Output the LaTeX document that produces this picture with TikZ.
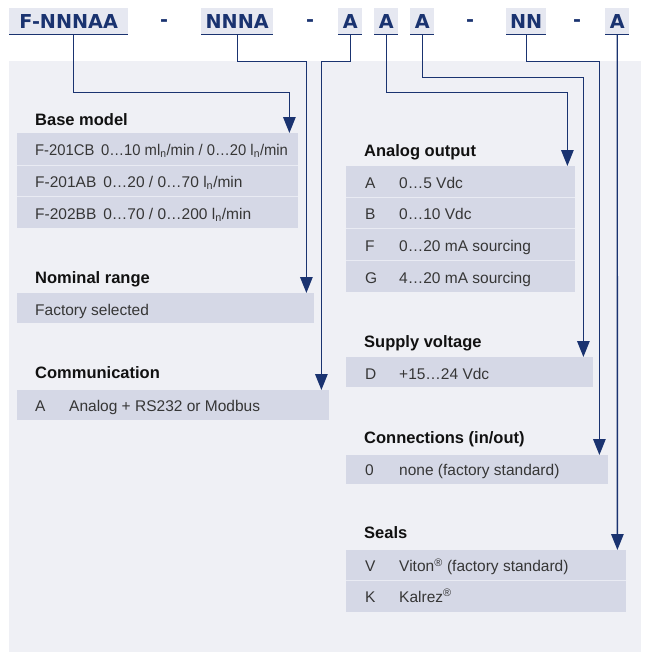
\documentclass[tikz,border=0pt]{standalone}
\usepackage{fontspec}
\setmainfont{Liberation Sans}
\newfontfamily\codefont{DejaVu Sans}
\usetikzlibrary{arrows.meta}
\definecolor{panelc}{HTML}{EFF0F5}
\definecolor{codebg}{HTML}{E6E8F1}
\definecolor{rowc}{HTML}{D5D8E6}
\definecolor{divc}{HTML}{E9EBF3}
\definecolor{navy}{HTML}{1A3370}
\definecolor{headc}{HTML}{111111}
\definecolor{cellc}{HTML}{363636}
\begin{document}
\begin{tikzpicture}[x=1pt,y=-1pt,
  conn/.style={draw=navy, line width=1.4pt, -{Triangle[width=12.5pt,length=16pt]}},
  codebox/.style={fill=codebg, inner sep=0pt, anchor=north west, minimum height=26pt,
    text height=14pt, text depth=0pt, text=navy,
    font=\codefont\bfseries\fontsize{19.2}{20}\selectfont},
  dashtxt/.style={inner sep=0pt, text=navy, font=\codefont\bfseries\fontsize{19.2}{20}\selectfont},
  uline/.style={draw=navy, line width=1.5pt},
  panel/.style={fill=panelc, inner sep=0pt, anchor=north west},
  rowbox/.style={fill=rowc, inner sep=0pt, anchor=north west},
  divline/.style={draw=divc, line width=1pt},
  head/.style={inner sep=0pt, anchor=base west, text=headc, font=\bfseries\fontsize{16.5}{18}\selectfont},
  cell/.style={inner sep=0pt, anchor=base west, text=cellc, font=\fontsize{15.5}{18}\selectfont}
]
\useasboundingbox (0,0) rectangle (652,659);
\fill[white] (0,0) rectangle (652,659);
\node[panel, minimum width=632pt, minimum height=591pt] (panel) at (9,61) {};

% code row
\node[codebox, minimum width=119pt] (c1) at (9,8) {F-NNNAA};
\node[codebox, minimum width=72pt] (c2) at (201,8) {NNNA};
\node[codebox, minimum width=24pt] (c3) at (338,8) {A};
\node[codebox, minimum width=24pt] (c4) at (374,8) {A};
\node[codebox, minimum width=24pt] (c5) at (410,8) {A};
\node[codebox, minimum width=40pt] (c6) at (506,8) {NN};
\node[codebox, minimum width=24pt] (c7) at (605,8) {A};
\foreach \n in {c1,c2,c3,c4,c5,c6,c7}{\draw[uline] (\n.south west) -- (\n.south east);}
\node[dashtxt] (d1) at (164,23) {-};
\node[dashtxt] (d2) at (310,23) {-};
\node[dashtxt] (d3) at (470,23) {-};
\node[dashtxt] (d4) at (577,23) {-};

% left column tables
\node[head] (h1) at (35,125) {Base model};
\node[rowbox, minimum width=281pt, minimum height=32pt] (bm1) at (17,133) {};
\node[rowbox, minimum width=281pt, minimum height=31.5pt] (bm2) at (17,165) {};
\node[rowbox, minimum width=281pt, minimum height=31.5pt] (bm3) at (17,196.5) {};
\draw[divline] (bm2.north west) -- (bm2.north east);
\draw[divline] (bm3.north west) -- (bm3.north east);
\node[cell] (bt1) at (35,155.5) {\scalebox{0.955}[1]{F-201CB\hspace{0.45em}0…10 ml\textsubscript{n}/min / 0…20 l\textsubscript{n}/min}};
\node[cell] (bt2) at (35,187.5) {F-201AB\hspace{0.45em}0…20 / 0…70 l\textsubscript{n}/min};
\node[cell] (bt3) at (35,219) {F-202BB\hspace{0.45em}0…70 / 0…200 l\textsubscript{n}/min};

\node[head] (h2) at (35,283) {Nominal range};
\node[rowbox, minimum width=297pt, minimum height=30pt] (nr1) at (17,293) {};
\node[cell] (nt1) at (35,315) {Factory selected};

\node[head] (h3) at (35,378) {Communication};
\node[rowbox, minimum width=312pt, minimum height=30pt] (cm1) at (17,390) {};
\node[cell] (ck1) at (35,411.5) {A};
\node[cell] (cv1) at (69,411.5) {Analog + RS232 or Modbus};

% right column tables
\node[head] (h4) at (364,156) {Analog output};
\node[rowbox, minimum width=229pt, minimum height=31pt] (ao1) at (346,166) {};
\node[rowbox, minimum width=229pt, minimum height=31pt] (ao2) at (346,197) {};
\node[rowbox, minimum width=229pt, minimum height=32pt] (ao3) at (346,228) {};
\node[rowbox, minimum width=229pt, minimum height=32pt] (ao4) at (346,260) {};
\foreach \n in {ao2,ao3,ao4}{\draw[divline] (\n.north west) -- (\n.north east);}
\node[cell] (ak1) at (365,188) {A};
\node[cell] (av1) at (399,188) {0…5 Vdc};
\node[cell] (ak2) at (365,219.5) {B};
\node[cell] (av2) at (399,219.5) {0…10 Vdc};
\node[cell] (ak3) at (365,251) {F};
\node[cell] (av3) at (399,251) {0…20 mA sourcing};
\node[cell] (ak4) at (365,283) {G};
\node[cell] (av4) at (399,283) {4…20 mA sourcing};

\node[head] (h5) at (364,347) {Supply voltage};
\node[rowbox, minimum width=247pt, minimum height=30pt] (sv1) at (346,357) {};
\node[cell] (sk1) at (365,379) {D};
\node[cell] (sv1t) at (399,379) {+15…24 Vdc};

\node[head] (h6) at (364,443) {Connections (in/out)};
\node[rowbox, minimum width=262pt, minimum height=29pt] (cn1) at (346,455) {};
\node[cell] (nk1) at (365,475) {0};
\node[cell] (nv1) at (399,475) {none (factory standard)};

\node[head] (h7) at (364,538) {Seals};
\node[rowbox, minimum width=280pt, minimum height=30pt] (se1) at (346,550) {};
\node[rowbox, minimum width=280pt, minimum height=32pt] (se2) at (346,580) {};
\draw[divline] (se2.north west) -- (se2.north east);
\node[cell] (ek1) at (365,571.5) {V};
\node[cell] (ev1) at (399,571.5) {Viton\textsuperscript{®} (factory standard)};
\node[cell] (ek2) at (365,602) {K};
\node[cell] (ev2) at (399,602) {Kalrez\textsuperscript{®}};

% connectors
\draw[conn] ([xshift=4.5pt]c1.south) -- ++(0,58) -| ([xshift=-9pt]bm1.north east);
\draw[conn] (c2.south) -- ++(0,27) -| ([xshift=-8pt]nr1.north east);
\draw[conn] (c3.south) -- ++(0,27) -| ([xshift=-8pt]cm1.north east);
\draw[conn] (c4.south) -- ++(0,58) -| ([xshift=-8pt]ao1.north east);
\draw[conn] (c5.south) -- ++(0,43) -| ([xshift=-10pt]sv1.north east);
\draw[conn] (c6.south) -- ++(0,27) -| ([xshift=-9pt]cn1.north east);
\draw[conn] (c7.south) -- ([xshift=-9pt]se1.north east);
\end{tikzpicture}
\end{document}
